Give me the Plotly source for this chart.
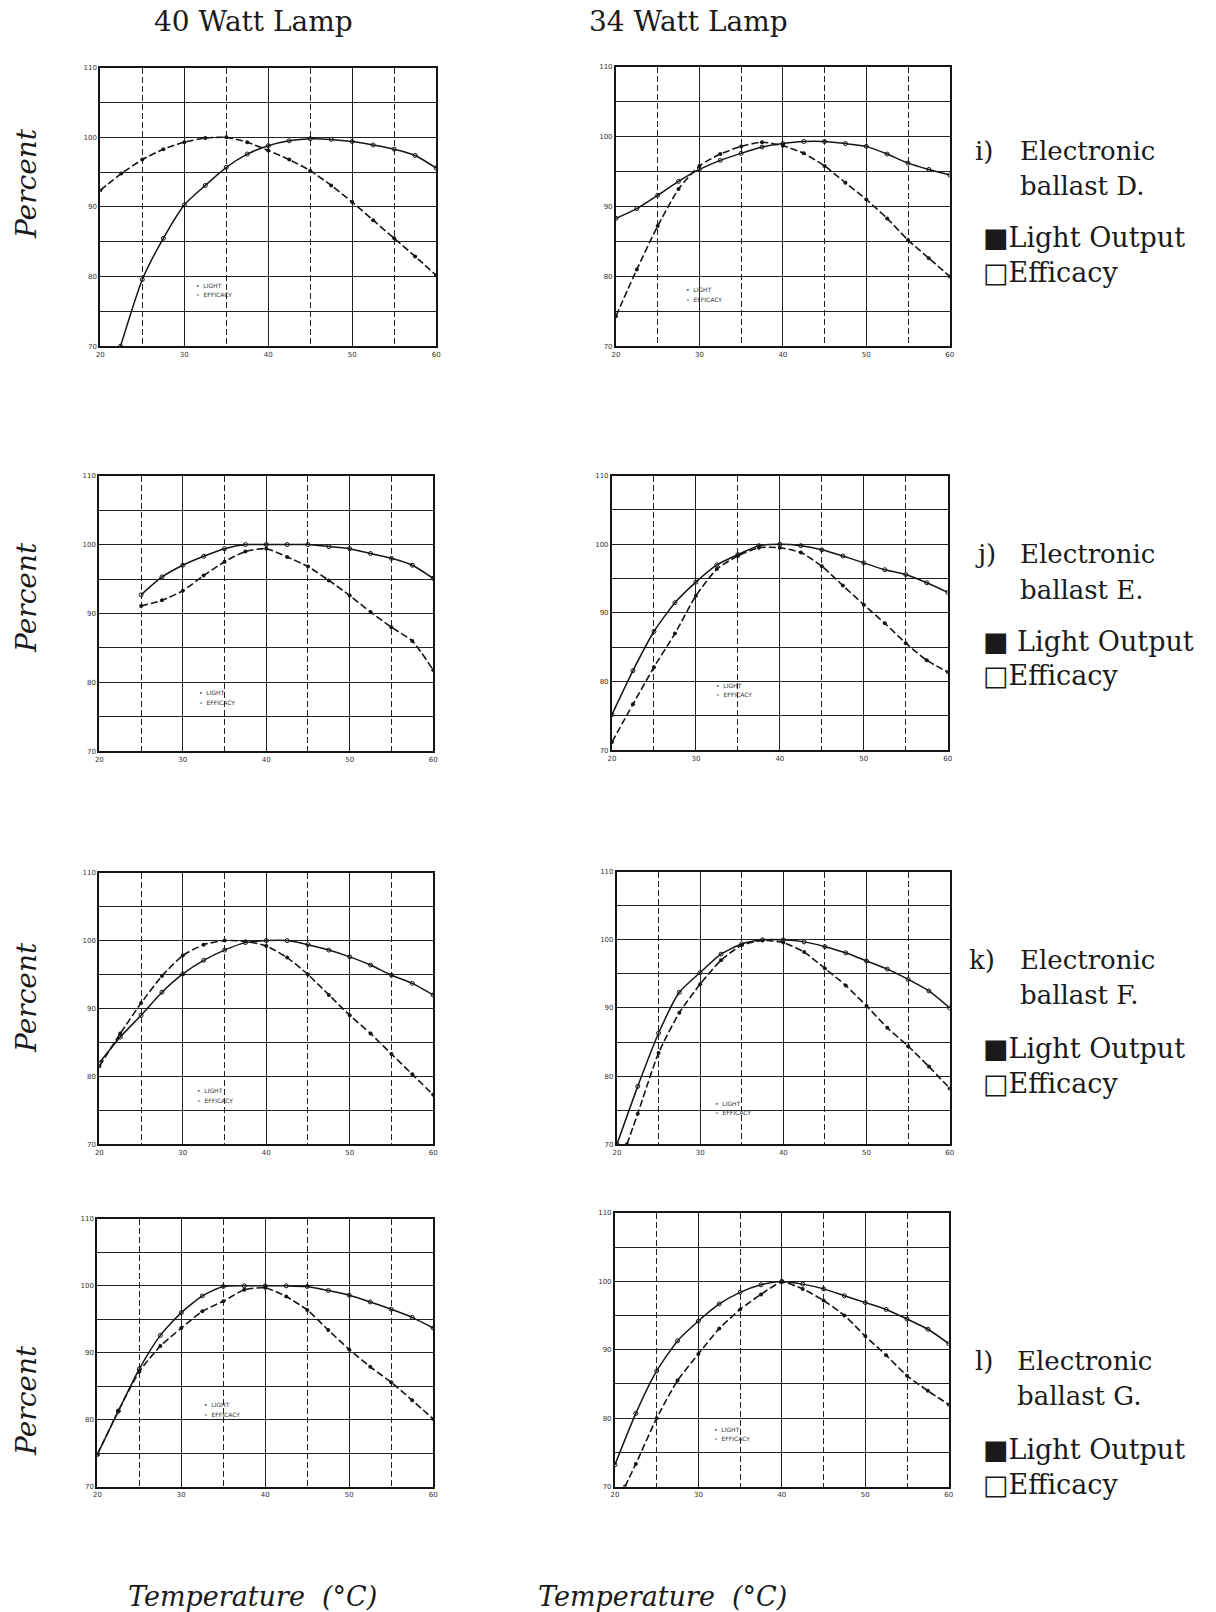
import plotly.graph_objects as go

W, H = 1216, 1612

# Ambient temperature readings (deg C)
temps = [20, 22.5, 25, 27.5, 30, 32.5, 35, 37.5, 40, 42.5, 45, 47.5, 50, 52.5, 55, 57.5, 60]
temps_25 = [25, 27.5, 30, 32.5, 35, 37.5, 40, 42.5, 45, 47.5, 50, 52.5, 55, 57.5, 60]
temps_d40_eff = [22.4, 25, 27.5, 30, 32.5, 35, 37.5, 40, 42.5, 45, 47.5, 50, 52.5, 55, 57.5, 60]
temps_late = [21.2, 22.5, 25, 27.5, 30, 32.5, 35, 37.5, 40, 42.5, 45, 47.5, 50, 52.5, 55, 57.5, 60]

# i) Electronic ballast D
d40_light = [92.4, 94.8, 96.8, 98.3, 99.3, 99.9, 100.0, 99.3, 98.1, 96.8, 95.2, 93.1, 90.7, 88.1, 85.5, 82.9, 80.2]
d40_eff = [70.0, 79.6, 85.5, 90.3, 93.1, 95.7, 97.6, 98.8, 99.5, 99.8, 99.7, 99.4, 98.9, 98.3, 97.4, 95.6]
d34_light = [74.3, 81.0, 87.2, 92.5, 95.8, 97.5, 98.6, 99.2, 98.7, 97.6, 95.8, 93.4, 91.0, 88.3, 85.2, 82.6, 80.0]
d34_eff = [88.3, 89.7, 91.6, 93.6, 95.3, 96.6, 97.6, 98.5, 99.0, 99.3, 99.3, 99.0, 98.6, 97.5, 96.2, 95.3, 94.5]

# j) Electronic ballast E
e40_light = [91.1, 91.9, 93.3, 95.5, 97.5, 99.0, 99.4, 98.2, 96.8, 94.8, 92.6, 90.2, 88.0, 86.0, 81.8]
e40_eff = [92.7, 95.3, 97.0, 98.3, 99.4, 100.0, 100.0, 100.0, 100.0, 99.7, 99.4, 98.7, 98.0, 97.0, 95.1]
e34_light = [71.2, 76.7, 82.1, 87.0, 92.5, 96.4, 98.3, 99.5, 99.5, 98.8, 96.8, 94.0, 91.2, 88.5, 85.6, 83.1, 81.4]
e34_eff = [75.2, 81.6, 87.3, 91.5, 94.5, 97.0, 98.5, 99.8, 100.0, 99.8, 99.2, 98.3, 97.3, 96.3, 95.6, 94.4, 93.0]

# k) Electronic ballast F
f40_light = [81.5, 86.3, 90.8, 94.8, 97.8, 99.4, 100.0, 99.9, 99.2, 97.5, 95.0, 92.0, 89.0, 86.3, 83.3, 80.3, 77.3]
f40_eff = [82.0, 85.8, 89.0, 92.4, 95.1, 97.1, 98.6, 99.7, 100.0, 100.0, 99.4, 98.6, 97.6, 96.4, 94.9, 93.7, 92.0]
f34_light = [70.0, 74.5, 83.4, 89.3, 93.5, 97.0, 99.2, 99.9, 99.6, 98.2, 95.8, 93.3, 90.3, 87.1, 84.4, 81.4, 78.2]
f34_eff = [70.0, 78.5, 86.3, 92.3, 95.2, 97.9, 99.4, 100.0, 100.0, 99.7, 99.0, 98.1, 96.9, 95.7, 94.2, 92.5, 90.0]

# l) Electronic ballast G
g40_light = [74.8, 81.3, 87.2, 91.0, 93.7, 96.2, 97.7, 99.4, 99.7, 98.4, 96.4, 93.4, 90.5, 87.9, 85.6, 82.9, 80.1]
g40_eff = [74.8, 81.3, 87.6, 92.6, 96.0, 98.5, 99.9, 100.0, 100.0, 100.0, 99.9, 99.3, 98.6, 97.6, 96.5, 95.3, 93.7]
g34_light = [70.0, 73.3, 80.0, 85.5, 89.4, 93.1, 95.9, 98.1, 99.9, 98.9, 97.2, 95.0, 92.0, 89.2, 86.2, 84.0, 82.0]
g34_eff = [73.2, 80.7, 86.9, 91.3, 94.2, 96.7, 98.4, 99.5, 100.0, 99.6, 98.9, 97.9, 96.9, 95.9, 94.5, 93.0, 90.9]

x_ticks = [20, 30, 40, 50, 60]
y_ticks = [70, 80, 90, 100, 110]

column_titles = ["40 Watt Lamp", "34 Watt Lamp"]
ballast_tags = ["i)", "j)", "k)", "l)"]
ballast_names = ["ballast D.", "ballast E.", "ballast F.", "ballast G."]
key_light = ["\u25a0Light Output", "\u25a0 Light Output", "\u25a0Light Output", "\u25a0Light Output"]
key_eff = ["\u25a1Efficacy", "\u25a1Efficacy", "\u25a1Efficacy", "\u25a1Efficacy"]

# (light x, light y, efficacy x, efficacy y)
panels = [
    (temps, d40_light, temps_d40_eff, d40_eff),
    (temps, d34_light, temps, d34_eff),
    (temps_25, e40_light, temps_25, e40_eff),
    (temps, e34_light, temps, e34_eff),
    (temps, f40_light, temps, f40_eff),
    (temps_late, f34_light, temps, f34_eff),
    (temps, g40_light, temps, g40_eff),
    (temps_late, g34_light, temps, g34_eff),
]

# plot boxes in pixels: left, right, top, bottom
boxes = [
    (97, 435, 64, 344), (616, 952, 63, 344),
    (96, 432, 474, 751), (612, 950, 474, 750),
    (96, 432, 873, 1146), (617, 952, 872, 1146),
    (94, 432, 1221, 1490), (615, 951, 1215, 1490),
]

# small in-plot key position (deg C, percent)
key_pos = [(31.1, 78.8), (28.2, 78.1), (31.7, 78.5), (32.1, 79.5),
           (31.5, 77.9), (31.6, 76.0), (32.5, 82.2), (31.6, 78.4)]

INK = "#151515"
fig = go.Figure()
layout = dict(
    width=W, height=H, autosize=False,
    margin=dict(l=0, r=0, t=0, b=0),
    paper_bgcolor="white", plot_bgcolor="white",
    showlegend=False,
)
annotations = []

for i, (lx, ly, ex, ey) in enumerate(panels):
    n = i + 1
    xa = "x" if n == 1 else f"x{n}"
    ya = "y" if n == 1 else f"y{n}"
    l, r, t, b = boxes[i]
    fig.add_trace(go.Scatter(
        x=ex, y=ey, xaxis=xa, yaxis=ya, mode="lines+markers",
        line=dict(color=INK, width=1.5, shape="spline", smoothing=0.6),
        marker=dict(symbol="circle-open", size=4, color=INK, line=dict(width=1)),
        name="Efficacy", cliponaxis=True,
    ))
    fig.add_trace(go.Scatter(
        x=lx, y=ly, xaxis=xa, yaxis=ya, mode="lines+markers",
        line=dict(color=INK, width=1.6, dash="7px,3px", shape="spline", smoothing=0.6),
        marker=dict(symbol="circle", size=4, color=INK),
        name="Light Output", cliponaxis=True,
    ))
    common = dict(
        showline=True, linecolor=INK, linewidth=2, mirror=True,
        showgrid=True, gridcolor="#222222", gridwidth=1.3,
        zeroline=False, ticks="", fixedrange=True,
        tickfont=dict(family="DejaVu Sans", size=7, color="#333333"),
    )
    layout["xaxis" if n == 1 else f"xaxis{n}"] = dict(
        common, anchor=ya, domain=[l / W, r / W], range=[20, 60],
        tickmode="array", tickvals=x_ticks, ticktext=[str(v) for v in x_ticks],
        minor=dict(tickmode="linear", tick0=20, dtick=5, showgrid=True,
                   gridcolor="#222222", gridwidth=1.2, griddash="6px,3px"),
    )
    layout["yaxis" if n == 1 else f"yaxis{n}"] = dict(
        common, anchor=xa, domain=[1 - b / H, 1 - t / H], range=[70, 110],
        tickmode="array", tickvals=y_ticks, ticktext=[str(v) for v in y_ticks],
        minor=dict(tickmode="linear", tick0=70, dtick=5, showgrid=True,
                   gridcolor="#222222", gridwidth=1.3),
    )
    kx, ky = key_pos[i]
    for j, word in enumerate(["\u2022  LIGHT", "\u2218  EFFICACY"]):
        annotations.append(dict(
            x=kx, y=ky - 1.4 * j, xref=xa, yref=ya, text=word, showarrow=False,
            xanchor="left", yanchor="middle",
            font=dict(family="DejaVu Sans", size=6, color="#333333"),
        ))


def label(px, py, text, size=26, anchor="center", italic=False, angle=0):
    annotations.append(dict(
        x=px / W, y=1 - py / H, xref="paper", yref="paper", text=text,
        showarrow=False, xanchor=anchor, yanchor="middle", textangle=angle,
        font=dict(family="DejaVu Serif", size=size, color="#1a1a1a",
                  style="italic" if italic else "normal"),
    ))


label(251, 18, column_titles[0], size=28)
label(689, 18, column_titles[1], size=28)

for py in [180, 596, 998, 1403]:
    label(22, py, "Percent", size=28, italic=True, angle=-90)

label(250, 1600, "Temperature  (\u00b0C)", size=27, italic=True)
label(663, 1600, "Temperature  (\u00b0C)", size=27, italic=True)

# side captions: tag row, ballast row, two key rows
side_rows = [(148, 183, 235, 270), (553, 589, 641, 675),
             (961, 996, 1050, 1085), (1364, 1399, 1453, 1488)]
tag_x = [975, 975, 969, 975]
name_x = [1021, 1021, 1021, 1018]
for k in range(4):
    y1, y2, y3, y4 = side_rows[k]
    label(tag_x[k], y1, ballast_tags[k], size=26, anchor="left")
    label(name_x[k], y1, "Electronic", size=26, anchor="left")
    label(name_x[k], y2, ballast_names[k], size=26, anchor="left")
    label(983, y3, key_light[k], size=27, anchor="left")
    label(983, y4, key_eff[k], size=27, anchor="left")

layout["annotations"] = annotations
fig.update_layout(**layout)
fig.write_html("out.html")
